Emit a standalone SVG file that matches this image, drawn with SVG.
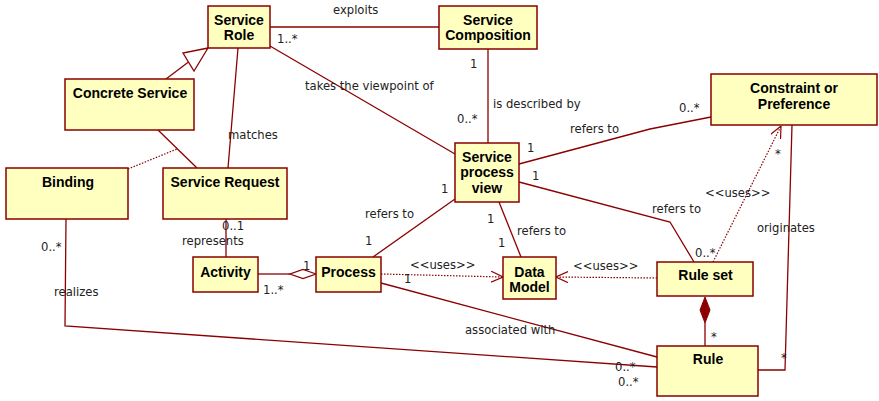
<svg xmlns="http://www.w3.org/2000/svg" width="879" height="401" viewBox="0 0 879 401">
  <style>
    .box { fill: #ffffc0; stroke: #8b0000; stroke-width: 1.5; }
    .name { font-family: "Liberation Sans", Arial, sans-serif; font-size: 14px; font-weight: bold; fill: #000; text-anchor: middle; }
    .lbl { font-family: "DejaVu Sans", Verdana, sans-serif; font-size: 11.6px; fill: #222; }
    .ln { fill: none; stroke: #8b0000; stroke-width: 1.3; }
    .dep { fill: none; stroke: #8b0000; stroke-width: 1.2; stroke-dasharray: 1.5 1.5; }
  </style>
  <defs>
    <marker id="open" viewBox="0 0 12 12" refX="12" refY="6" markerWidth="12" markerHeight="12" markerUnits="userSpaceOnUse" orient="auto">
      <path d="M0,0.5 L12,6 L0,11.5" fill="none" stroke="#8b0000" stroke-width="1.2"/>
    </marker>
  </defs>
  <rect width="879" height="401" fill="#fff"/>

  <g id="connectors">
    <!-- exploits -->
    <line class="ln" x1="270" y1="27" x2="439" y2="27"/>
    <!-- takes the viewpoint of -->
    <line class="ln" x1="270" y1="46" x2="455" y2="154"/>
    <!-- is described by -->
    <line class="ln" x1="488" y1="49" x2="488" y2="143"/>
    <!-- generalization Concrete Service -> Service Role -->
    <line class="ln" x1="166" y1="79" x2="188.5" y2="62"/>
    <polygon points="208,48 183,53 194,71" fill="#fff" stroke="#8b0000" stroke-width="1.3"/>
    <!-- matches -->
    <line class="ln" x1="238" y1="48" x2="228" y2="168"/>
    <!-- Concrete Service - Service Request -->
    <line class="ln" x1="158" y1="130" x2="197" y2="168"/>
    <!-- Binding as association class -->
    <line class="dep" x1="128" y1="169" x2="177" y2="149"/>
    <!-- represents -->
    <line class="ln" x1="226" y1="219" x2="226" y2="257"/>
    <!-- Activity aggregated into Process -->
    <line class="ln" x1="258" y1="274" x2="290" y2="274"/>
    <polygon points="316,274 303,269.5 290,274 303,278.5" fill="#fff" stroke="#8b0000" stroke-width="1.3"/>
    <!-- Process refers to Service process view -->
    <line class="ln" x1="373" y1="257" x2="455" y2="199"/>
    <!-- Service process view refers to Data Model -->
    <line class="ln" x1="499" y1="202" x2="521" y2="257"/>
    <!-- Process uses Data Model -->
    <line class="dep" x1="381" y1="274" x2="503" y2="277" marker-end="url(#open)"/>
    <!-- Rule set uses Data Model -->
    <line class="dep" x1="657" y1="278" x2="556" y2="277" marker-end="url(#open)"/>
    <!-- Service process view refers to Constraint -->
    <polyline class="ln" points="519,164 650,129 711,117"/>
    <!-- Service process view refers to Rule set -->
    <polyline class="ln" points="519,182 670,222 694,262"/>
    <!-- Rule set uses Constraint -->
    <line class="dep" x1="713" y1="262" x2="781" y2="126" marker-end="url(#open)"/>
    <!-- originates -->
    <polyline class="ln" points="792,125 785,370 758,370"/>
    <!-- composition Rule set / Rule -->
    <line class="ln" x1="705" y1="323" x2="705" y2="346"/>
    <polygon points="705,297 710,310 705,323 700,310" fill="#8b0000" stroke="#8b0000" stroke-width="1"/>
    <!-- associated with -->
    <line class="ln" x1="381" y1="283" x2="657" y2="357"/>
    <!-- realizes -->
    <polyline class="ln" points="66,219 65,326 657,367"/>
  </g>

  <g id="service-role">
    <rect class="box" x="208" y="6" width="62" height="42"/>
    <text class="name" x="239" y="25">Service</text>
    <text class="name" x="239" y="40">Role</text>
  </g>
  <g id="service-composition">
    <rect class="box" x="439" y="6" width="98" height="43"/>
    <text class="name" x="488" y="25">Service</text>
    <text class="name" x="488" y="40">Composition</text>
  </g>
  <g id="concrete-service">
    <rect class="box" x="65" y="79" width="129" height="51"/>
    <text class="name" x="130" y="98">Concrete Service</text>
  </g>
  <g id="binding">
    <rect class="box" x="6" y="168" width="122" height="51"/>
    <text class="name" x="68" y="187">Binding</text>
  </g>
  <g id="service-request">
    <rect class="box" x="163" y="168" width="124" height="51"/>
    <text class="name" x="225" y="187">Service Request</text>
  </g>
  <g id="activity">
    <rect class="box" x="193" y="257" width="65" height="35"/>
    <text class="name" x="225.5" y="277">Activity</text>
  </g>
  <g id="service-process-view">
    <rect class="box" x="455" y="143" width="64" height="59"/>
    <text class="name" x="487" y="162">Service</text>
    <text class="name" x="487" y="177">process</text>
    <text class="name" x="487" y="193">view</text>
  </g>
  <g id="process">
    <rect class="box" x="316" y="257" width="65" height="35"/>
    <text class="name" x="348.5" y="277">Process</text>
  </g>
  <g id="data-model">
    <rect class="box" x="503" y="257" width="53" height="42"/>
    <text class="name" x="529.5" y="277">Data</text>
    <text class="name" x="529.5" y="292">Model</text>
  </g>
  <g id="constraint-or-preference">
    <rect class="box" x="711" y="74" width="166" height="51"/>
    <text class="name" x="794" y="93">Constraint or</text>
    <text class="name" x="794" y="109">Preference</text>
  </g>
  <g id="rule-set">
    <rect class="box" x="657" y="262" width="96" height="34"/>
    <text class="name" x="705.5" y="280">Rule set</text>
  </g>
  <g id="rule">
    <rect class="box" x="657" y="346" width="101" height="50"/>
    <text class="name" x="708" y="364">Rule</text>
  </g>

  <g id="labels">
    <text class="lbl" x="333" y="14">exploits</text>
    <text class="lbl" x="277" y="43">1..*</text>
    <text class="lbl" x="305" y="90">takes the viewpoint of</text>
    <text class="lbl" x="470" y="68">1</text>
    <text class="lbl" x="493" y="108">is described by</text>
    <text class="lbl" x="457" y="123">0..*</text>
    <text class="lbl" x="228" y="139">matches</text>
    <text class="lbl" x="570" y="133">refers to</text>
    <text class="lbl" x="527" y="152">1</text>
    <text class="lbl" x="679" y="112">0..*</text>
    <text class="lbl" x="532" y="180">1</text>
    <text class="lbl" x="652" y="213">refers to</text>
    <text class="lbl" x="695" y="257">0..*</text>
    <text class="lbl" x="705" y="197">&lt;&lt;uses&gt;&gt;</text>
    <text class="lbl" x="775" y="158">*</text>
    <text class="lbl" x="757" y="232">originates</text>
    <text class="lbl" x="781" y="362">*</text>
    <text class="lbl" x="711" y="341">*</text>
    <text class="lbl" x="615" y="371">0..*</text>
    <text class="lbl" x="618" y="386">0..*</text>
    <text class="lbl" x="465" y="334">associated with</text>
    <text class="lbl" x="410" y="269">&lt;&lt;uses&gt;&gt;</text>
    <text class="lbl" x="404" y="283">1</text>
    <text class="lbl" x="573" y="270">&lt;&lt;uses&gt;&gt;</text>
    <text class="lbl" x="365" y="218">refers to</text>
    <text class="lbl" x="365" y="245">1</text>
    <text class="lbl" x="441" y="193">1</text>
    <text class="lbl" x="487" y="223">1</text>
    <text class="lbl" x="498" y="247">1</text>
    <text class="lbl" x="517" y="235">refers to</text>
    <text class="lbl" x="303" y="270">1</text>
    <text class="lbl" x="263" y="294">1..*</text>
    <text class="lbl" x="222" y="230">0..1</text>
    <text class="lbl" x="182" y="245">represents</text>
    <text class="lbl" x="41" y="251">0..*</text>
    <text class="lbl" x="54" y="296">realizes</text>
  </g>
</svg>
